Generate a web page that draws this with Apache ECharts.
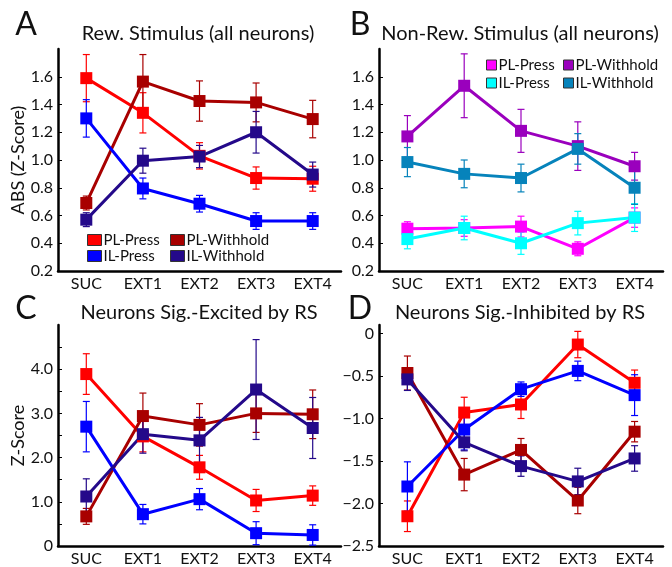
<!DOCTYPE html>
<html>
<head>
<meta charset="utf-8">
<script src="https://cdn.jsdelivr.net/npm/echarts@6/dist/echarts.min.js"></script>
<style>
  html, body { margin: 0; padding: 0; background: #fff; }
  #chart { width: 672px; height: 567px; }
</style>
</head>
<body>
<div id="chart"></div>
<script>
const categories = ['SUC', 'EXT1', 'EXT2', 'EXT3', 'EXT4'];

// A: rewarded stimulus (all neurons)
const aPlPress = [1.59, 1.34, 1.03, 0.87, 0.865];
const aPlPressErr = [0.17, 0.145, 0.095, 0.08, 0.09];
const aPlWithhold = [0.69, 1.565, 1.425, 1.415, 1.295];
const aPlWithholdErr = [0.05, 0.195, 0.145, 0.14, 0.135];
const aIlPress = [1.30, 0.795, 0.685, 0.56, 0.56];
const aIlPressErr = [0.135, 0.075, 0.06, 0.06, 0.06];
const aIlWithhold = [0.57, 0.995, 1.025, 1.20, 0.895];
const aIlWithholdErr = [0.05, 0.09, 0.08, 0.15, 0.09];

// B: non-rewarded stimulus (all neurons)
const bPlPress = [0.505, 0.51, 0.52, 0.36, 0.585];
const bPlPressErr = [0.05, 0.06, 0.075, 0.05, 0.07];
const bPlWithhold = [1.17, 1.535, 1.21, 1.10, 0.955];
const bPlWithholdErr = [0.15, 0.23, 0.155, 0.175, 0.1];
const bIlPress = [0.43, 0.51, 0.40, 0.545, 0.585];
const bIlPressErr = [0.07, 0.085, 0.08, 0.085, 0.1];
const bIlWithhold = [0.985, 0.90, 0.87, 1.08, 0.80];
const bIlWithholdErr = [0.105, 0.1, 0.1, 0.11, 0.12];

// C: neurons sig.-excited by RS
const cPlPress = [3.89, 2.48, 1.78, 1.03, 1.14];
const cPlPressErr = [0.46, 0.35, 0.27, 0.25, 0.22];
const cPlWithhold = [0.67, 2.94, 2.74, 3.0, 2.98];
const cPlWithholdErr = [0.18, 0.52, 0.48, 0.43, 0.55];
const cIlPress = [2.70, 0.72, 1.06, 0.29, 0.25];
const cIlPressErr = [0.57, 0.22, 0.24, 0.26, 0.23];
const cIlWithhold = [1.12, 2.53, 2.39, 3.54, 2.67];
const cIlWithholdErr = [0.4, 0.43, 0.52, 1.13, 0.69];

// D: neurons sig.-inhibited by RS
const dPlPress = [-2.15, -0.93, -0.835, -0.13, -0.58];
const dPlPressErr = [0.18, 0.18, 0.165, 0.155, 0.15];
const dPlWithhold = [-0.465, -1.66, -1.37, -1.965, -1.155];
const dPlWithholdErr = [0.2, 0.19, 0.135, 0.155, 0.12];
const dIlPress = [-1.80, -1.13, -0.655, -0.44, -0.725];
const dIlPressErr = [0.29, 0.24, 0.085, 0.115, 0.24];
const dIlWithhold = [-0.54, -1.28, -1.56, -1.74, -1.47];
const dIlWithholdErr = [0.13, 0.1, 0.12, 0.155, 0.15];

// tick values
const abTicks = [0.2, 0.4, 0.6, 0.8, 1.0, 1.2, 1.4, 1.6];
const cTicks = [0, 0.5, 1, 1.5, 2, 2.5, 3, 3.5, 4, 4.5];
const cLabels = [0, 1, 2, 3, 4];
const dTicks = [-2.5, -2, -1.5, -1, -0.5, 0];

const FONT = 'Lato';
const RED = '#ff0000', DARKRED = '#a80000', BLUE = '#0000ff', NAVY = '#24098a';
const MAGENTA = '#ff00ff', PURPLE = '#9a00bd', CYAN = '#00ffff', TEAL = '#0683bb';

const grids = [
  { left: 58, top: 49, width: 283, height: 222 },
  { left: 379, top: 49, width: 284, height: 222 },
  { left: 58, top: 325, width: 283, height: 223 },
  { left: 379, top: 325, width: 284, height: 223 },
];

const xAxes = grids.map((g, i) => ({
  type: 'category',
  gridIndex: i,
  data: categories,
  boundaryGap: true,
  axisLine: { onZero: false, lineStyle: { color: '#000', width: 2.5 } },
  axisTick: { inside: true, alignWithLabel: true, length: 3, lineStyle: { color: '#000' } },
  axisLabel: { color: '#111', fontSize: 16, fontFamily: FONT, margin: 5 },
}));

function yAxis(i, min, max, ticks, labels, fmt, name) {
  return {
    type: 'value',
    gridIndex: i,
    min, max,
    name: name || '',
    nameLocation: 'middle',
    nameGap: 29,
    nameTextStyle: { color: '#111', fontSize: 18, fontFamily: FONT },
    splitLine: { show: false },
    axisLine: { show: true, lineStyle: { color: '#000', width: 2.5 } },
    axisTick: { show: true, inside: true, length: 4, customValues: ticks, lineStyle: { color: '#000' } },
    axisLabel: { color: '#111', fontSize: 16, fontFamily: FONT, margin: 5, customValues: labels, formatter: fmt },
  };
}

const yAxes = [
  yAxis(0, 0.2, 1.8, abTicks, abTicks, (v) => v.toFixed(1), 'ABS (Z-Score)'),
  yAxis(1, 0.2, 1.8, abTicks, abTicks, (v) => v.toFixed(1)),
  yAxis(2, 0, 5, cTicks, cLabels, (v) => (v === 0 ? '0' : v.toFixed(1)), 'Z-Score'),
  yAxis(3, -2.5, 0.1, dTicks, dTicks, (v) => (v === 0 ? '0' : '\u2212' + Math.abs(v).toFixed(1))),
];

const series = [];
function addGroup(idx, name, vals, errs, color) {
  series.push({
    type: 'custom',
    xAxisIndex: idx,
    yAxisIndex: idx,
    silent: true,
    encode: { x: 0, y: [1, 2] },
    data: vals.map((v, i) => [i, v - errs[i], v + errs[i]]),
    renderItem: (params, api) => {
      const lo = api.coord([api.value(0), api.value(1)]);
      const hi = api.coord([api.value(0), api.value(2)]);
      const w = 3.5;
      const st = { stroke: color, lineWidth: 1.2 };
      return {
        type: 'group',
        children: [
          { type: 'line', shape: { x1: lo[0], y1: lo[1], x2: hi[0], y2: hi[1] }, style: st },
          { type: 'line', shape: { x1: lo[0] - w, y1: lo[1], x2: lo[0] + w, y2: lo[1] }, style: st },
          { type: 'line', shape: { x1: hi[0] - w, y1: hi[1], x2: hi[0] + w, y2: hi[1] }, style: st },
        ],
      };
    },
    z: 2,
  });
  series.push({
    type: 'line',
    name,
    xAxisIndex: idx,
    yAxisIndex: idx,
    data: vals,
    symbol: 'rect',
    symbolSize: 12,
    lineStyle: { color, width: 3 },
    itemStyle: { color },
    z: 3,
  });
}

addGroup(0, 'PL-Press', aPlPress, aPlPressErr, RED);
addGroup(0, 'PL-Withhold', aPlWithhold, aPlWithholdErr, DARKRED);
addGroup(0, 'IL-Press', aIlPress, aIlPressErr, BLUE);
addGroup(0, 'IL-Withhold', aIlWithhold, aIlWithholdErr, NAVY);

addGroup(1, 'B PL-Press', bPlPress, bPlPressErr, MAGENTA);
addGroup(1, 'B PL-Withhold', bPlWithhold, bPlWithholdErr, PURPLE);
addGroup(1, 'B IL-Press', bIlPress, bIlPressErr, CYAN);
addGroup(1, 'B IL-Withhold', bIlWithhold, bIlWithholdErr, TEAL);

addGroup(2, 'PL-Press', cPlPress, cPlPressErr, RED);
addGroup(2, 'PL-Withhold', cPlWithhold, cPlWithholdErr, DARKRED);
addGroup(2, 'IL-Press', cIlPress, cIlPressErr, BLUE);
addGroup(2, 'IL-Withhold', cIlWithhold, cIlWithholdErr, NAVY);

addGroup(3, 'PL-Press', dPlPress, dPlPressErr, RED);
addGroup(3, 'PL-Withhold', dPlWithhold, dPlWithholdErr, DARKRED);
addGroup(3, 'IL-Press', dIlPress, dIlPressErr, BLUE);
addGroup(3, 'IL-Withhold', dIlWithhold, dIlWithholdErr, NAVY);

function legend(names, left, top, w, h, lh) {
  return {
    data: names,
    orient: 'vertical',
    left, top,
    icon: 'rect',
    itemWidth: w,
    itemHeight: h,
    itemGap: 0,
    padding: 0,
    selectedMode: false,
    itemStyle: { borderColor: '#333', borderWidth: 1 },
    textStyle: { color: '#111', fontSize: 15, fontFamily: FONT, lineHeight: lh, padding: [0, 0, 0, -3] },
    formatter: (n) => n.replace(/^B /, ''),
  };
}

function label(text, x, y, size) {
  return {
    type: 'text', x, y,
    style: { text, fill: '#111', font: size + 'px ' + FONT, textAlign: 'center', textVerticalAlign: 'middle' },
  };
}

const chart = echarts.init(document.getElementById('chart'), null, { renderer: 'canvas' });
chart.setOption({
  animation: false,
  backgroundColor: '#fff',
  grid: grids,
  xAxis: xAxes,
  yAxis: yAxes,
  legend: [
    legend(['PL-Press', 'IL-Press'], 87, 232, 14, 11, 16),
    legend(['PL-Withhold', 'IL-Withhold'], 170, 232, 14, 11, 16),
    legend(['B PL-Press', 'B IL-Press'], 486, 56, 10, 10, 18),
    legend(['B PL-Withhold', 'B IL-Withhold'], 563, 56, 10, 10, 18),
  ],
  graphic: [
    label('A', 26, 25, 32),
    label('B', 360, 25, 32),
    label('C', 26, 309, 32),
    label('D', 360, 309, 32),
    label('Rew. Stimulus (all neurons)', 198, 34, 20),
    label('Non-Rew. Stimulus (all neurons)', 520, 34, 20),
    label('Neurons Sig.-Excited by RS', 199, 313, 20),
    label('Neurons Sig.-Inhibited by RS', 520, 313, 20),
  ],
  series,
});
</script>
</body>
</html>
